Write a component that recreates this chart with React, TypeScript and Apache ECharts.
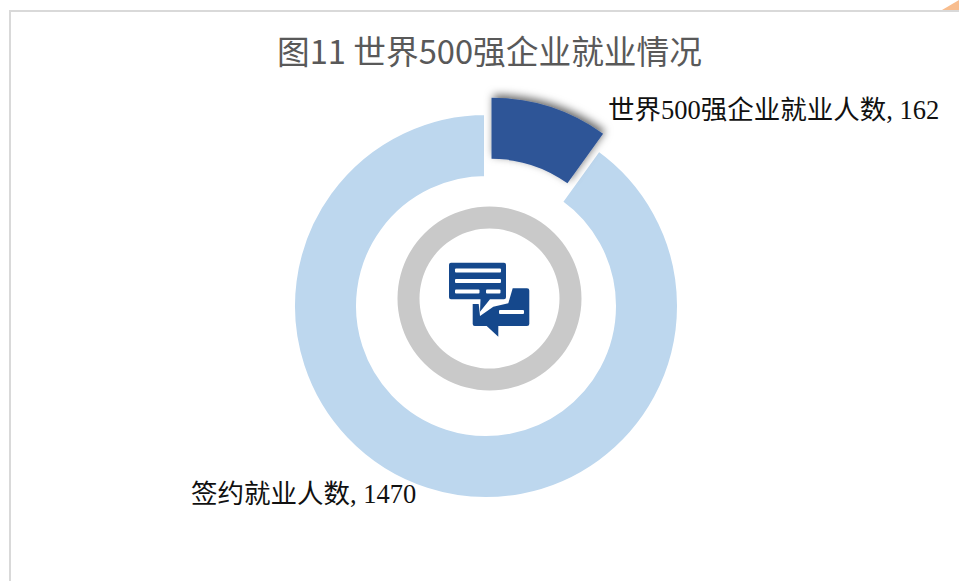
import React, { useEffect, useRef } from "react";
import * as echarts from "echarts";

const titleText = "图11 世界500强企业就业情况";
const categories = ["世界500强企业就业人数", "签约就业人数"];
const values = [162, 1470];
const sliceColors = ["#2F5597", "#BDD7EE"];

const upperBubble =
  "M451 262.7H504Q506 262.7 506 264.7V297.3Q506 299.3 504 299.3H490L480 311.7L480.5 299.3H451Q449 299.3 449 297.3V264.7Q449 262.7 451 262.7Z";
const lowerBubble =
  "M512.7 288.3H527Q529.3 288.3 529.3 290.5V324Q529.3 326 527 326H498.3V336.7L486.7 326H474.7Q472.7 326 472.7 324V304H478.7L480 316L493.3 306.7L508.3 303.3Z";

echarts.graphic.registerShape("upperBubble", (echarts.graphic as any).extendPath(upperBubble, {}));
echarts.graphic.registerShape("lowerBubble", (echarts.graphic as any).extendPath(lowerBubble, {}));

const labelPositions = [
  { x: 608, y: 110 },
  { x: 191, y: 494 },
];

function ringData(visibleIndex: number) {
  return categories.map((name, i) => ({
    name,
    value: values[i],
    selected: visibleIndex === 0 && i === 0,
    itemStyle:
      i === visibleIndex
        ? { color: sliceColors[i] }
        : { color: "transparent", borderColor: "transparent", borderWidth: 0, shadowBlur: 0, shadowColor: "transparent" },
  }));
}

export default function App() {
  const ref = useRef<HTMLDivElement>(null);
  useEffect(() => {
    const chart = echarts.init(ref.current!, null, { renderer: "svg" });
    const iconColor = "#15488C";
    const whiteBars = [
      [455, 268.5, 46, 4],
      [455, 279, 46, 4],
      [455, 289.5, 24.5, 4],
      [486, 289.5, 14.5, 4],
      [499, 310, 25, 4],
    ];
    chart.setOption({
      animation: false,
      backgroundColor: "#ffffff",
      title: {
        text: titleText,
        left: 277,
        top: 33,
        padding: 0,
        textStyle: {
          fontFamily: "'Noto Sans CJK SC'",
          fontSize: 32.7,
          fontWeight: "normal",
          color: "#595959",
        },
      },
      series: [
        {
          type: "pie",
          silent: true,
          center: [489.5, 298.5],
          radius: [70, 92],
          startAngle: 90,
          label: { show: false },
          labelLine: { show: false },
          data: [{ value: 1, itemStyle: { color: "#C9C9C9" } }],
        },
        {
          type: "pie",
          silent: true,
          center: [486, 306],
          radius: [128, 193],
          startAngle: 90,
          itemStyle: { borderColor: "#ffffff", borderWidth: 4 },
          label: {
            show: true,
            position: "outside",
            formatter: "{b}, {c}",
            fontFamily: "'Liberation Serif', 'Noto Sans CJK SC'",
            fontSize: 26.5,
            color: "#111111",
          },
          labelLine: { show: false },
          labelLayout: (params: any) => {
            const p = labelPositions[params.dataIndex];
            return { x: p.x, y: p.y, align: "left", verticalAlign: "middle", hideOverlap: false };
          },
          data: ringData(1),
        },
        {
          type: "pie",
          center: [486, 306],
          radius: [130, 191],
          startAngle: 90,
          selectedMode: "single",
          selectedOffset: 18,
          label: { show: false },
          labelLine: { show: false },
          select: {
            itemStyle: {
              shadowColor: "rgba(0,0,0,0.6)",
              shadowBlur: 8,
              shadowOffsetX: 2,
              shadowOffsetY: -3,
            },
          },
          data: ringData(0),
        },
      ],
      graphic: [
        { type: "line", silent: true, shape: { x1: 10, y1: 11, x2: 959, y2: 11 }, style: { stroke: "#D9D9D9", lineWidth: 2 } },
        { type: "line", silent: true, shape: { x1: 10, y1: 10, x2: 10, y2: 581 }, style: { stroke: "#D9D9D9", lineWidth: 2 } },
        { type: "polygon", silent: true, shape: { points: [[942, 10], [959, 0], [959, 10]] }, style: { fill: "#F8BD8E" } },
        { type: "upperBubble", silent: true, x: 0, y: 0, style: { fill: iconColor } },
        { type: "lowerBubble", silent: true, x: 0, y: 0, style: { fill: iconColor } },
        ...whiteBars.map(([x, y, width, height]) => ({
          type: "rect",
          silent: true,
          shape: { x, y, width, height, r: 1 },
          style: { fill: "#ffffff" },
        })),
      ],
    });
    return () => chart.dispose();
  }, []);
  return <div ref={ref} style={{ position: "absolute", left: 0, top: 0, width: 959, height: 581 }} />;
}
